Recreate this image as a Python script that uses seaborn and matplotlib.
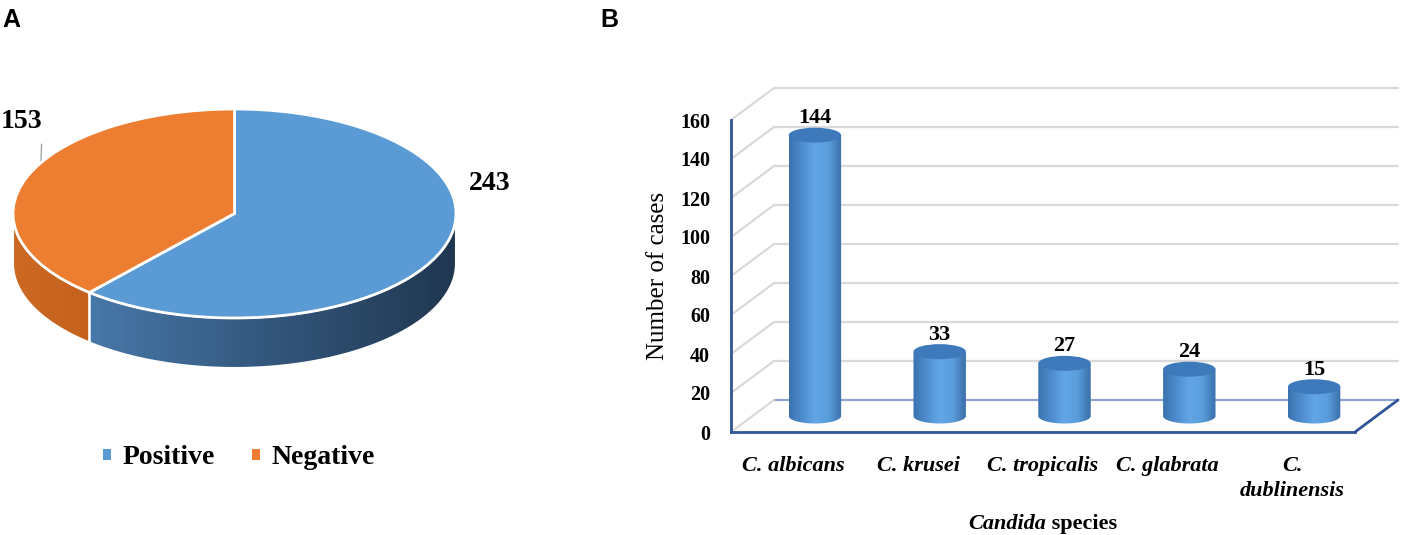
import numpy as np
import pandas as pd
import matplotlib
matplotlib.use('Agg')
import matplotlib.pyplot as plt
import matplotlib.patches as mpatches
from matplotlib.colors import LinearSegmentedColormap
import seaborn as sns

# ---------------- data ----------------
pie_labels = ['Positive', 'Negative']
pie_values = [243, 153]

species = ['C. albicans', 'C. krusei', 'C. tropicalis', 'C. glabrata', 'C. dublinensis']
species_ticklabels = ['C. albicans', 'C. krusei', 'C. tropicalis', 'C. glabrata', 'C.\ndublinensis']
counts = [144, 33, 27, 24, 15]
y_ticks = [0, 20, 40, 60, 80, 100, 120, 140, 160]

# ---------------- setup ----------------
W, H, DPI = 1401, 535, 100
sns.set_theme(style='white')
plt.rcParams['font.family'] = ['Liberation Serif', 'DejaVu Serif']
plt.rcParams['text.color'] = 'black'
plt.rcParams['axes.labelcolor'] = 'black'
plt.rcParams['xtick.color'] = 'black'
plt.rcParams['ytick.color'] = 'black'

fig = plt.figure(figsize=(W / DPI, H / DPI), dpi=DPI)
fig.patch.set_facecolor('white')


def fx(px):
    return px / W


def fy(py):
    return 1 - py / H


for letter, xpx in (('A', 2), ('B', 600)):
    fig.text(fx(xpx), fy(27), letter, family=['Liberation Sans', 'DejaVu Sans'],
             fontweight='bold', fontsize=18, ha='left', va='baseline', color='black')

grad = np.linspace(0, 1, 256).reshape(1, -1)

# ---------------- Panel A : 3D-looking pie ----------------
top_px, face_bottom_px, depth_px = 109, 318, 50
left_px, right_px = 13, 456
ry_px = (face_bottom_px - top_px) / 2
depth = depth_px / ry_px
axa = fig.add_axes([fx(left_px), fy(face_bottom_px + depth_px),
                    (right_px - left_px) / W, (face_bottom_px + depth_px - top_px) / H])
pie_colors = ['#5b9bd5', '#ed7d31']
wedges, _ = axa.pie(pie_values, colors=pie_colors, startangle=90, counterclock=False,
                    wedgeprops=dict(edgecolor='white', linewidth=2))
for w in wedges:
    w.set_zorder(5)

side_cmaps = [LinearSegmentedColormap.from_list('bs', ['#4878a9', '#33567b', '#203750']),
              LinearSegmentedColormap.from_list('os', ['#cc6923', '#c4621d'])]
for w, cm in zip(wedges, side_cmaps):
    for k in (-360, 0, 360):
        a = max(w.theta1 + k, 180)
        b = min(w.theta2 + k, 360)
        if b <= a:
            continue
        t = np.radians(np.linspace(a, b, 200))
        xs, ys = np.cos(t), np.sin(t)
        verts = np.vstack([np.column_stack([xs, ys]),
                           np.column_stack([xs[::-1], ys[::-1] - depth])])
        poly = mpatches.Polygon(verts, closed=True, facecolor='none',
                                edgecolor='white', lw=1.5, zorder=3)
        axa.add_patch(poly)
        im = axa.imshow(grad, cmap=cm, extent=(xs.min(), xs.max(), -1 - depth, 0),
                        aspect='auto', zorder=2, interpolation='bilinear')
        im.set_clip_path(poly)

axa.set_aspect('auto')
axa.set_xlim(-1, 1)
axa.set_ylim(-1 - depth, 1)
axa.axis('off')

axa.annotate(str(pie_values[1]), xy=(-0.874, 0.49), xycoords='data',
             xytext=(fx(42), fy(128)), textcoords='figure fraction',
             ha='right', va='baseline', fontsize=20, fontweight='bold',
             arrowprops=dict(arrowstyle='-', color='#a6a6a6', lw=1, relpos=(1, 0),
                             shrinkA=5, shrinkB=0),
             annotation_clip=False)
fig.text(fx(490), fy(190), str(pie_values[0]), ha='center', va='baseline',
         fontsize=20, fontweight='bold')

handles = [mpatches.Patch(facecolor=c, edgecolor='none') for c in pie_colors]
fig.legend(handles, pie_labels, loc='center', bbox_to_anchor=(fx(239), fy(458)), ncol=2,
           frameon=False, prop=dict(family='Liberation Serif', weight='bold', size=20),
           handlelength=0.28, handleheight=0.28, handletextpad=0.4, columnspacing=1.35,
           borderpad=0, borderaxespad=0)

# ---------------- Panel B : 3D-looking cylinder bars ----------------
ax_left, ax_right, ax_top, ax_bottom = 731, 1355, 120, 432
axb = fig.add_axes([fx(ax_left), fy(ax_bottom), (ax_right - ax_left) / W, (ax_bottom - ax_top) / H])
df = pd.DataFrame({'species': species, 'count': counts})
sns.barplot(data=df, x='species', y='count', ax=axb, width=0.42, color='#5b9bd5')
axb.set_xlim(-0.5, 4.5)
axb.set_ylim(0, 160)

xu = (ax_right - ax_left) / 5.0
yu = (ax_bottom - ax_top) / 160.0
DX, DY = 43, 32
dxd, dyd = DX / xu, DY / yu
mx, my = dxd / 2, dyd / 2

for v in y_ticks:
    c = '#8ea6cf' if v == 0 else '#d9d9d9'
    axb.plot([-0.5 + dxd, 4.5 + dxd], [v + dyd, v + dyd], color=c, lw=1.6,
             clip_on=False, zorder=1)
    axb.plot([-0.5, -0.5 + dxd], [v, v + dyd], color='#d9d9d9', lw=1.6,
             clip_on=False, zorder=1)
axb.plot([4.5, 4.5 + dxd], [0, dyd], color='#2f5597', lw=2, clip_on=False, zorder=4)

body_cmap = LinearSegmentedColormap.from_list(
    'cyl', ['#3b72ad', '#4d8cce', '#62a6e6', '#5a9ddc', '#3a6fa9'])
ell_h = 15 / yu
for p in list(axb.patches):
    x0 = p.get_x() + mx
    w = p.get_width()
    h = p.get_height()
    p.set_visible(False)
    xc = x0 + w / 2
    t = np.linspace(np.pi, 2 * np.pi, 60)
    arc_x = xc + (w / 2) * np.cos(t)
    arc_y = my + (ell_h / 2) * np.sin(t)
    verts = [(x0, h + my)] + list(zip(arc_x, arc_y)) + [(x0 + w, h + my)]
    body = mpatches.Polygon(verts, closed=True, facecolor='none', edgecolor='none', zorder=3)
    axb.add_patch(body)
    im = axb.imshow(grad, cmap=body_cmap, extent=(x0, x0 + w, my - ell_h / 2, h + my),
                    aspect='auto', zorder=3, interpolation='bilinear')
    im.set_clip_path(body)
    axb.add_patch(mpatches.Ellipse((xc, h + my), w, ell_h, facecolor='#3d79bb',
                                   edgecolor='none', zorder=4))
    axb.annotate(f'{int(round(h))}', xy=(xc, h + my), xytext=(0, 12 * 72 / DPI),
                 textcoords='offset points', ha='center', va='baseline',
                 fontsize=16, fontweight='bold', annotation_clip=False)

axb.set_aspect('auto')
axb.set_xlim(-0.5, 4.5)
axb.set_ylim(0, 160)
axb.grid(False)
axb.set_facecolor('none')
sns.despine(ax=axb, top=True, right=True)
for s in ('left', 'bottom'):
    axb.spines[s].set_color('#2f5597')
    axb.spines[s].set_linewidth(2)
axb.set_yticks(y_ticks)
axb.set_xticks(range(len(species)))
axb.set_xticklabels(species_ticklabels)
axb.tick_params(axis='y', length=0, pad=15, labelsize=14.5, labelcolor='black')
axb.tick_params(axis='x', length=0, pad=17, labelsize=16, labelcolor='black')
for lab in axb.get_yticklabels():
    lab.set_fontweight('bold')
for lab in axb.get_xticklabels():
    lab.set_fontweight('bold')
    lab.set_fontstyle('italic')
    lab.set_linespacing(1.35)
axb.set_xlabel('')
axb.set_ylabel('Number of cases', fontsize=18, color='black')
axb.yaxis.set_label_coords(-0.10, 0.5)

renderer = fig.canvas.get_renderer()
t1 = fig.text(0, fy(529), 'Candida', fontsize=16, fontweight='bold', fontstyle='italic',
              va='baseline', ha='left')
t2 = fig.text(0, fy(529), ' species', fontsize=16, fontweight='bold', va='baseline', ha='left')
w1 = t1.get_window_extent(renderer).width
w2 = t2.get_window_extent(renderer).width
cx = (ax_left + ax_right) / 2
x0 = cx - (w1 + w2) / 2
t1.set_x(fx(x0))
t2.set_x(fx(x0 + w1))

fig.savefig('out.png', dpi=DPI)
